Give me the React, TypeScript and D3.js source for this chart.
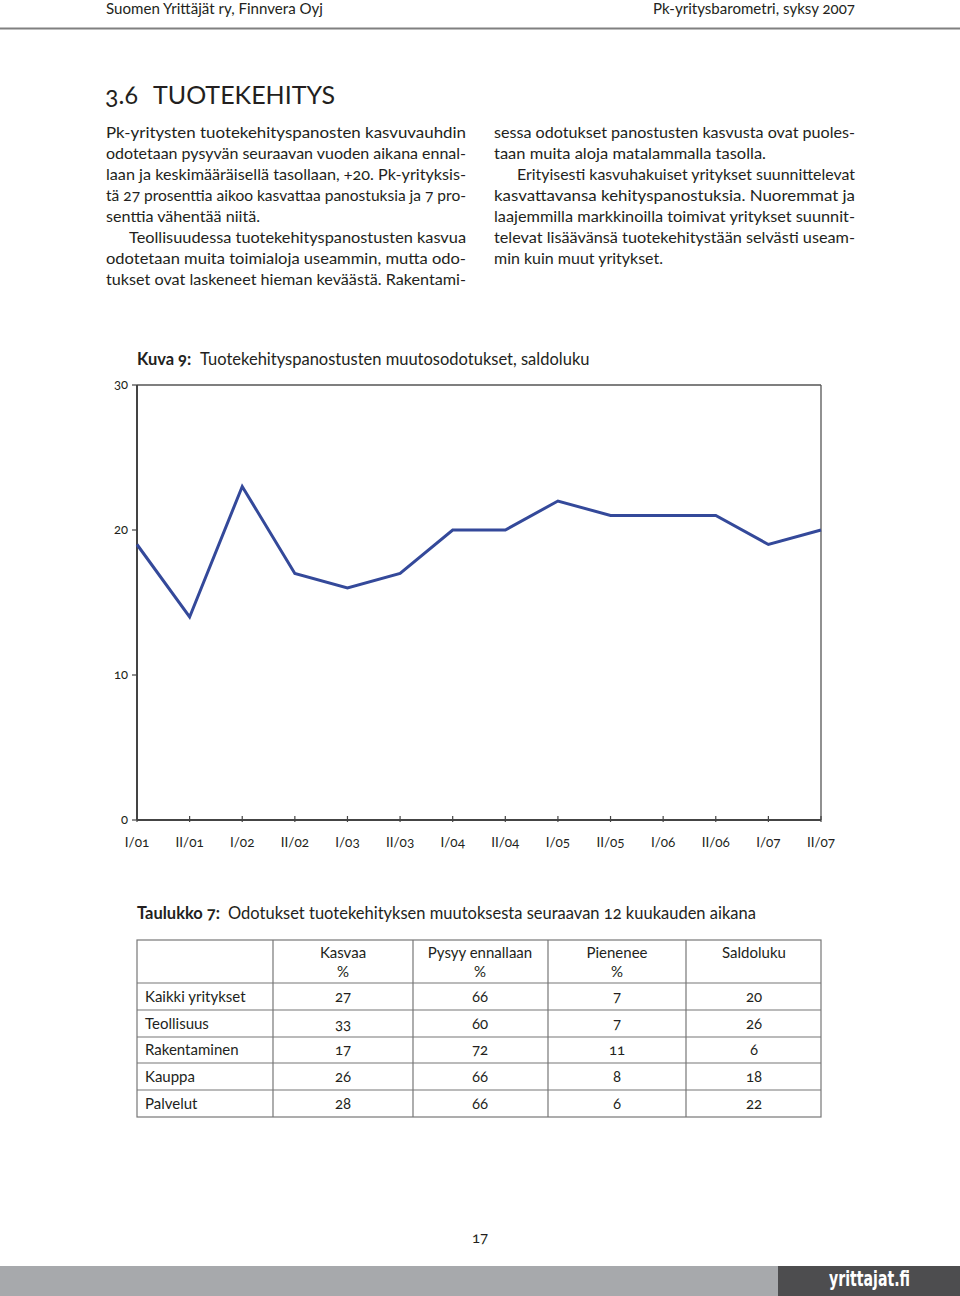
import React from "react";
import * as d3 from "d3";

const periods = ["I/01","II/01","I/02","II/02","I/03","II/03","I/04","II/04","I/05","II/05","I/06","II/06","I/07","II/07"];
const saldo = [19,14,23,17,16,17,20,20,22,21,21,21,19,20];
const yTicks = [0,10,20,30];

const tableRows = ["Kaikki yritykset","Teollisuus","Rakentaminen","Kauppa","Palvelut"];
const colKasvaa = [27,33,17,26,28];
const colPysyy = [66,60,72,66,66];
const colPienenee = [7,7,11,8,6];
const colSaldo = [20,26,6,18,22];
const tableHeaders = [["Kasvaa","%"],["Pysyy ennallaan","%"],["Pienenee","%"],["Saldoluku",""]];

const leftLines = [
  "Pk-yritysten tuotekehityspanosten kasvuvauhdin",
  "odotetaan pysyvän seuraavan vuoden aikana ennal-",
  "laan ja keskimääräisellä tasollaan, +20. Pk-yrityksis-",
  "tä 27 prosenttia aikoo kasvattaa panostuksia ja 7 pro-",
  "senttia vähentää niitä.",
  "Teollisuudessa tuotekehityspanostusten kasvua",
  "odotetaan muita toimialoja useammin, mutta odo-",
  "tukset ovat laskeneet hieman keväästä. Rakentami-",
];
const leftStarts = [106,106,106,106,106,129,106,106];
const leftEnds = [466,466,466,466,260,466,466,466];
const rightLines = [
  "sessa odotukset panostusten kasvusta ovat puoles-",
  "taan muita aloja matalammalla tasolla.",
  "Erityisesti kasvuhakuiset yritykset suunnittelevat",
  "kasvattavansa kehityspanostuksia. Nuoremmat ja",
  "laajemmilla markkinoilla toimivat yritykset suunnit-",
  "televat lisäävänsä tuotekehitystään selvästi useam-",
  "min kuin muut yritykset.",
];
const rightStarts = [494,494,517,494,494,494,494];
const rightEnds = [855,766,855,855,855,855,663];

const FONT = "Lato, 'Open Sans', sans-serif";
const INK = "#231f20";

export default function App() {
  const x = d3.scalePoint<string>().domain(periods).range([137, 821]);
  const y = d3.scaleLinear().domain([0, 30]).range([820, 385]);
  const line = d3.line<number>().x((_, i) => x(periods[i]) as number).y(d => y(d));

  const colX = [273, 413, 548, 686, 821];
  const colCenters = [343, 480, 617, 754];
  const rowBounds = [940, 983, 1010, 1037, 1063, 1090, 1117];
  const cols = [colKasvaa, colPysyy, colPienenee, colSaldo];

  const textStyle: React.CSSProperties = { fontVariantNumeric: "oldstyle-nums" };

  return (
    <svg width={960} height={1296} style={{ position: "absolute", left: 0, top: 0, background: "#fff" }}
      fontFamily={FONT} fill={INK}>
      {/* page header */}
      <text x={106} y={14} fontSize={15} style={textStyle} textLength={217} lengthAdjust="spacingAndGlyphs">Suomen Yrittäjät ry, Finnvera Oyj</text>
      <text x={653} y={14} fontSize={15} style={textStyle} textLength={202} lengthAdjust="spacingAndGlyphs">Pk-yritysbarometri, syksy 2007</text>
      <line x1={0} x2={960} y1={28.5} y2={28.5} stroke="#808080" strokeWidth={2} />

      <text x={105} y={104} fontSize={25} style={textStyle}>
        <tspan>3.6</tspan>
        <tspan x={153}>TUOTEKEHITYS</tspan>
      </text>

      {leftLines.map((t, i) => (
        <text key={"l" + i} x={leftStarts[i]} y={138 + i * 21} fontSize={15} style={textStyle}
          textLength={leftEnds[i] - leftStarts[i]} lengthAdjust="spacingAndGlyphs">{t}</text>
      ))}
      {rightLines.map((t, i) => (
        <text key={"r" + i} x={rightStarts[i]} y={138 + i * 21} fontSize={15} style={textStyle}
          textLength={rightEnds[i] - rightStarts[i]} lengthAdjust="spacingAndGlyphs">{t}</text>
      ))}

      {/* chart title */}
      <text x={137} y={365} fontSize={16.5} style={textStyle}>
        <tspan fontWeight="bold">Kuva 9:</tspan>
        <tspan x={200}>Tuotekehityspanostusten muutosodotukset, saldoluku</tspan>
      </text>

      {/* frame */}
      <line x1={137} x2={821} y1={y(30)} y2={y(30)} stroke="#555" strokeWidth={1.3} />
      <line x1={821} x2={821} y1={y(30)} y2={y(0)} stroke="#555" strokeWidth={1.3} />
      <line x1={137} x2={137} y1={y(30)} y2={y(0)} stroke="#444" strokeWidth={2} />
      <line x1={137} x2={821} y1={y(0)} y2={y(0)} stroke="#444" strokeWidth={2} />

      {yTicks.map(v => (
        <g key={"yt" + v}>
          <line x1={132} x2={137} y1={y(v)} y2={y(v)} stroke="#444" strokeWidth={1.2} />
          <text x={128} y={y(v) + 4} fontSize={13} textAnchor="end" style={textStyle}>{v}</text>
        </g>
      ))}
      {periods.map(p => (
        <g key={"xt" + p}>
          <line x1={x(p)} x2={x(p)} y1={y(0) - 4} y2={y(0) + 2} stroke="#444" strokeWidth={1.2} />
          <text x={x(p)} y={847} fontSize={13.5} textAnchor="middle" style={textStyle}>{p}</text>
        </g>
      ))}

      <path d={line(saldo) || ""} fill="none" stroke="#34499a" strokeWidth={3} strokeLinejoin="miter" />

      {/* table title */}
      <text x={137} y={919} fontSize={16.5} style={textStyle}>
        <tspan fontWeight="bold">Taulukko 7:</tspan>
        <tspan x={228}>Odotukset tuotekehityksen muutoksesta seuraavan 12 kuukauden aikana</tspan>
      </text>

      {/* table */}
      <g stroke="#777" strokeWidth={1.2} fill="none">
        <rect x={137} y={rowBounds[0]} width={821 - 137} height={rowBounds[6] - rowBounds[0]} />
        {rowBounds.slice(1, 6).map(b => <line key={"rb" + b} x1={137} x2={821} y1={b} y2={b} />)}
        {colX.slice(0, 4).map(c => <line key={"cb" + c} x1={c} x2={c} y1={rowBounds[0]} y2={rowBounds[6]} />)}
      </g>
      {tableHeaders.map((h, i) => (
        <g key={"h" + i}>
          <text x={colCenters[i]} y={958} fontSize={15} textAnchor="middle" style={textStyle}>{h[0]}</text>
          {h[1] && <text x={colCenters[i]} y={977} fontSize={15} textAnchor="middle" style={textStyle}>{h[1]}</text>}
        </g>
      ))}
      {tableRows.map((r, i) => {
        const cy = (rowBounds[i + 1] + rowBounds[i + 2]) / 2 + 5;
        return (
          <g key={"row" + i}>
            <text x={145} y={cy} fontSize={15} style={textStyle}>{r}</text>
            {cols.map((c, j) => (
              <text key={j} x={colCenters[j]} y={cy} fontSize={15} textAnchor="middle" style={textStyle}>{c[i]}</text>
            ))}
          </g>
        );
      })}

      {/* footer */}
      <text x={480} y={1243} fontSize={15} textAnchor="middle" style={textStyle}>17</text>
      <rect x={0} y={1266} width={960} height={30} fill="#a7a9ac" />
      <rect x={778} y={1266} width={182} height={30} fill="#4d4d4f" />
      <text x={829} y={1286} fontSize={21} fontWeight="bold" fill="#fff" textLength={81} lengthAdjust="spacingAndGlyphs"
        fontFamily="'Liberation Sans Narrow', 'DejaVu Sans Condensed', sans-serif">yrittajat.fi</text>
    </svg>
  );
}
